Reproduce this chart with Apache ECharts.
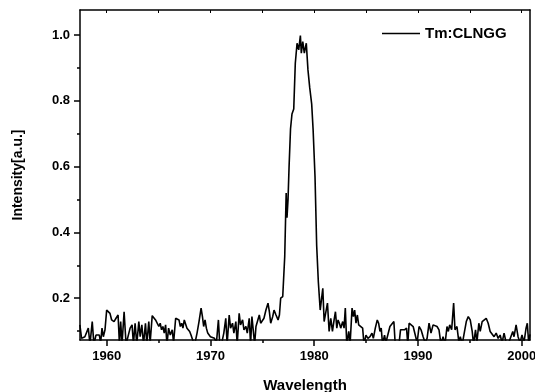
<!DOCTYPE html>
<html>
<head>
<meta charset="utf-8">
<script src="https://cdn.jsdelivr.net/npm/echarts@6/dist/echarts.min.js"></script>
<style>
  html, body { margin: 0; padding: 0; background: #fff; }
  #chart { width: 535px; height: 392px; }
</style>
</head>
<body>
<div id="chart"></div>
<script>
// emission spectrum: [wavelength, intensity]
const spectrum = [
  [1957.42, 0.119], [1957.58, 0.078], [1957.90, 0.083], [1958.23, 0.109], [1958.39, 0.060],
  [1958.61, 0.129], [1958.77, 0.060], [1958.97, 0.088], [1959.29, 0.088], [1959.42, 0.065],
  [1959.55, 0.109], [1959.68, 0.083], [1959.84, 0.104], [1960.00, 0.164], [1960.32, 0.154],
  [1960.48, 0.134], [1960.71, 0.129], [1960.90, 0.139], [1961.10, 0.149], [1961.23, 0.060],
  [1961.35, 0.129], [1961.48, 0.060], [1961.68, 0.159], [1961.87, 0.060], [1962.06, 0.065],
  [1962.26, 0.109], [1962.45, 0.119], [1962.58, 0.060], [1962.74, 0.124], [1962.90, 0.060],
  [1963.10, 0.129], [1963.23, 0.083], [1963.39, 0.119], [1963.55, 0.060], [1963.74, 0.124],
  [1963.87, 0.060], [1964.06, 0.129], [1964.19, 0.065], [1964.39, 0.147], [1964.58, 0.144],
  [1964.71, 0.134], [1964.84, 0.129], [1965.03, 0.114], [1965.16, 0.124], [1965.29, 0.104],
  [1965.42, 0.114], [1965.55, 0.094], [1965.68, 0.119], [1965.81, 0.060], [1965.97, 0.109],
  [1966.13, 0.088], [1966.32, 0.104], [1966.45, 0.065], [1966.65, 0.139], [1966.84, 0.139],
  [1966.97, 0.134], [1967.10, 0.114], [1967.23, 0.124], [1967.35, 0.109], [1967.48, 0.134],
  [1967.61, 0.129], [1967.74, 0.109], [1967.87, 0.114], [1968.00, 0.099], [1968.13, 0.088],
  [1968.32, 0.070], [1968.52, 0.065], [1968.71, 0.094], [1968.90, 0.129], [1969.10, 0.170],
  [1969.23, 0.144], [1969.35, 0.114], [1969.48, 0.134], [1969.61, 0.109], [1969.74, 0.094],
  [1969.87, 0.099], [1970.00, 0.083], [1970.19, 0.088], [1970.39, 0.078], [1970.58, 0.065],
  [1970.77, 0.134], [1970.90, 0.060], [1971.10, 0.065], [1971.29, 0.094], [1971.48, 0.139],
  [1971.61, 0.060], [1971.81, 0.149], [1971.94, 0.109], [1972.13, 0.124], [1972.26, 0.094],
  [1972.45, 0.129], [1972.58, 0.060], [1972.77, 0.154], [1972.90, 0.119], [1973.10, 0.134],
  [1973.23, 0.104], [1973.42, 0.114], [1973.55, 0.094], [1973.74, 0.139], [1973.87, 0.060],
  [1974.00, 0.144], [1974.13, 0.144], [1974.26, 0.060], [1974.39, 0.114], [1974.52, 0.109],
  [1974.71, 0.149], [1974.84, 0.124], [1975.03, 0.129], [1975.16, 0.139], [1975.35, 0.164],
  [1975.55, 0.185], [1975.68, 0.159], [1975.81, 0.124], [1976.00, 0.144], [1976.13, 0.164],
  [1976.32, 0.149], [1976.52, 0.134], [1976.65, 0.149], [1976.77, 0.200], [1976.97, 0.205],
  [1977.16, 0.326], [1977.30, 0.520], [1977.38, 0.445], [1977.48, 0.500], [1977.58, 0.600],
  [1977.72, 0.715], [1977.86, 0.760], [1978.03, 0.775], [1978.18, 0.914], [1978.35, 0.975],
  [1978.51, 0.955], [1978.67, 0.998], [1978.76, 0.945], [1978.90, 0.980], [1979.05, 0.945],
  [1979.24, 0.975], [1979.40, 0.894], [1979.57, 0.840], [1979.76, 0.790], [1979.90, 0.710],
  [1980.08, 0.570], [1980.24, 0.360], [1980.40, 0.250], [1980.58, 0.164], [1980.70, 0.164],
  [1980.83, 0.230], [1980.96, 0.129], [1981.10, 0.134], [1981.28, 0.185], [1981.44, 0.099],
  [1981.60, 0.139], [1981.76, 0.099], [1981.92, 0.134], [1982.05, 0.159], [1982.18, 0.109],
  [1982.30, 0.134], [1982.43, 0.124], [1982.56, 0.109], [1982.75, 0.129], [1982.88, 0.109],
  [1983.00, 0.170], [1983.14, 0.060], [1983.33, 0.099], [1983.46, 0.060], [1983.65, 0.170],
  [1983.78, 0.144], [1983.90, 0.164], [1984.03, 0.124], [1984.16, 0.149], [1984.29, 0.119],
  [1984.48, 0.114], [1984.67, 0.109], [1984.80, 0.060], [1984.99, 0.088], [1985.18, 0.078],
  [1985.38, 0.083], [1985.57, 0.094], [1985.70, 0.078], [1985.89, 0.109], [1986.08, 0.134],
  [1986.21, 0.124], [1986.34, 0.099], [1986.46, 0.109], [1986.59, 0.060], [1986.78, 0.088],
  [1986.91, 0.065], [1987.10, 0.065], [1987.30, 0.114], [1987.49, 0.109], [1987.68, 0.129],
  [1987.81, 0.060], [1988.00, 0.065], [1988.19, 0.065], [1988.32, 0.104], [1988.51, 0.109],
  [1988.70, 0.104], [1988.90, 0.109], [1989.02, 0.060], [1989.15, 0.124], [1989.34, 0.124],
  [1989.54, 0.114], [1989.73, 0.109], [1989.92, 0.065], [1990.11, 0.114], [1990.30, 0.104],
  [1990.50, 0.083], [1990.69, 0.065], [1990.88, 0.078], [1991.07, 0.124], [1991.26, 0.094],
  [1991.46, 0.119], [1991.65, 0.124], [1991.84, 0.114], [1992.03, 0.104], [1992.22, 0.060],
  [1992.42, 0.083], [1992.61, 0.060], [1992.80, 0.114], [1992.93, 0.099], [1993.06, 0.119],
  [1993.25, 0.104], [1993.44, 0.185], [1993.57, 0.104], [1993.76, 0.114], [1993.95, 0.065],
  [1994.08, 0.083], [1994.27, 0.060], [1994.46, 0.094], [1994.66, 0.129], [1994.85, 0.144],
  [1995.04, 0.134], [1995.23, 0.099], [1995.36, 0.060], [1995.55, 0.104], [1995.68, 0.065],
  [1995.87, 0.124], [1996.00, 0.099], [1996.19, 0.129], [1996.38, 0.134], [1996.58, 0.139],
  [1996.77, 0.124], [1996.96, 0.099], [1997.15, 0.094], [1997.34, 0.083], [1997.54, 0.094],
  [1997.73, 0.078], [1997.92, 0.088], [1998.11, 0.065], [1998.30, 0.094], [1998.50, 0.065],
  [1998.75, 0.065], [1998.94, 0.065], [1999.14, 0.099], [1999.26, 0.083], [1999.46, 0.119],
  [1999.65, 0.083], [1999.84, 0.065], [2000.03, 0.088], [2000.22, 0.065], [2000.42, 0.109],
  [2000.54, 0.124], [2000.67, 0.065], [2000.80, 0.090]
];

const xMajor = [1960, 1970, 1980, 1990, 2000];
const xMinor = [1965, 1975, 1985, 1995];
const yMajor = [0.2, 0.4, 0.6, 0.8, 1.0];
const yMinor = [0.1, 0.3, 0.5, 0.7, 0.9];

const X_MIN = 1957.43, X_MAX = 2000.8;
const Y_MIN = 0.073, Y_MAX = 1.076;

const font = '"Liberation Sans", Arial, sans-serif';
const axisLine = { show: true, lineStyle: { color: '#000', width: 1.5 } };

const chart = echarts.init(document.getElementById('chart'), null, { renderer: 'canvas' });

chart.setOption({
  animation: false,
  backgroundColor: '#fff',
  grid: { left: 80, right: 5, top: 10, bottom: 52, outerBoundsMode: 'none' },
  legend: {
    left: 377, top: 21,
    icon: 'rect',
    itemWidth: 38, itemHeight: 1.5, itemGap: 4,
    data: ['Tm:CLNGG'],
    textStyle: { fontFamily: font, fontWeight: 'bold', fontSize: 15, color: '#000' }
  },
  xAxis: [
    {
      type: 'value', min: X_MIN, max: X_MAX, position: 'bottom',
      name: 'Wavelength', nameLocation: 'middle', nameGap: 38,
      nameTextStyle: { fontFamily: font, fontWeight: 'bold', fontSize: 15, color: '#000' },
      axisLine: axisLine,
      axisTick: { show: true, length: 6, customValues: xMajor, lineStyle: { color: '#000', width: 1.5 } },
      axisLabel: { customValues: xMajor, fontFamily: font, fontWeight: 'bold', fontSize: 13, color: '#000', margin: 10,
        formatter: v => String(v) },
      splitLine: { show: false }
    },
    {
      type: 'value', min: X_MIN, max: X_MAX, position: 'bottom',
      axisLine: { show: false },
      axisTick: { show: true, length: 3, customValues: xMinor, lineStyle: { color: '#000', width: 1.5 } },
      axisLabel: { show: false },
      splitLine: { show: false }
    },
    {
      type: 'value', min: X_MIN, max: X_MAX, position: 'top',
      axisLine: axisLine,
      axisTick: { show: true, inside: true, length: 3, customValues: xMajor.concat(xMinor), lineStyle: { color: '#000', width: 1 } },
      axisLabel: { show: false },
      splitLine: { show: false }
    }
  ],
  yAxis: [
    {
      type: 'value', min: Y_MIN, max: Y_MAX, position: 'left',
      name: 'Intensity[a.u.]', nameLocation: 'middle', nameGap: 55,
      nameTextStyle: { fontFamily: font, fontWeight: 'bold', fontSize: 14, color: '#000' },
      axisLine: axisLine,
      axisTick: { show: true, length: 6, customValues: yMajor, lineStyle: { color: '#000', width: 1.5 } },
      axisLabel: { customValues: yMajor, fontFamily: font, fontWeight: 'bold', fontSize: 13, color: '#000', margin: 10,
        formatter: v => v.toFixed(1) },
      splitLine: { show: false }
    },
    {
      type: 'value', min: Y_MIN, max: Y_MAX, position: 'left',
      axisLine: { show: false },
      axisTick: { show: true, length: 3, customValues: yMinor, lineStyle: { color: '#000', width: 1.5 } },
      axisLabel: { show: false },
      splitLine: { show: false }
    },
    {
      type: 'value', min: Y_MIN, max: Y_MAX, position: 'right',
      axisLine: axisLine,
      axisTick: { show: false },
      axisLabel: { show: false },
      splitLine: { show: false }
    }
  ],
  series: [{
    name: 'Tm:CLNGG',
    type: 'line',
    data: spectrum,
    symbol: 'none',
    clip: true,
    lineStyle: { color: '#000', width: 1.6 },
    itemStyle: { color: '#000' }
  }]
});

window.addEventListener('resize', function() {
  chart.resize();
});
</script>
</body>
</html>
